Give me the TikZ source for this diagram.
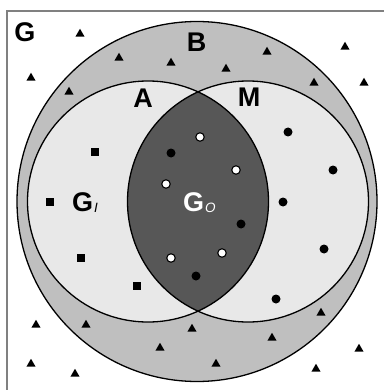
\documentclass[tikz,border=0pt]{standalone}
\usepackage{fontspec}
\setmainfont{Liberation Sans}
\usetikzlibrary{shapes.geometric}
\definecolor{ringgray}{gray}{0.75}
\definecolor{setgray}{gray}{0.91}
\definecolor{lensgray}{gray}{0.34}
\definecolor{framegray}{gray}{0.5}
\begin{document}
\begin{tikzpicture}[x=1pt,y=-1pt,
  outline/.style={draw=black,line width=1.3pt},
  tri/.style={regular polygon,regular polygon sides=3,fill=black,inner sep=0pt,minimum size=10.5pt},
  sq/.style={rectangle,fill=black,inner sep=0pt,minimum size=8pt},
  bdot/.style={circle,fill=black,inner sep=0pt,minimum size=9pt},
  wdot/.style={circle,fill=white,draw=black,line width=1.1pt,inner sep=0pt,minimum size=8.5pt},
  lab/.style={font=\bfseries\fontsize{27}{27}\selectfont,inner sep=0pt}]
\useasboundingbox (0,0) rectangle (383,390);
% frame of the universe G
\draw[framegray,line width=1.7pt] (7,392) -- (7,11) -- (385,11);
% ring B and the two sets A and M
\fill[ringgray] (197,201.5) circle (180);
\fill[setgray] (148,201.5) circle (120.5);
\fill[setgray] (248,201.5) circle (120.5);
\begin{scope}
  \clip (148,201.5) circle (120.5);
  \fill[lensgray] (248,201.5) circle (120.5);
\end{scope}
\draw[outline] (197,201.5) circle (180);
\draw[outline] (148,201.5) circle (120.5);
\draw[outline] (248,201.5) circle (120.5);
% triangles
\foreach \x/\y [count=\i] in {80/33,119/57,171/62,31/77,69/91,267/51,226/68,345/46,314/82,364/82,
  36/324,86/324,192/328,160/347,31/363,75/373,321/312,272/337,216/363,316/368,359/348}
  \node[tri] (t\i) at (\x,\y+1) {};
% squares
\foreach \x/\y [count=\i] in {95/152,50/202,81/258,137/286}
  \node[sq] (s\i) at (\x,\y) {};
% black dots
\foreach \x/\y [count=\i] in {171/153,241/224,196/276,288/132,333/170,283/202,324/249,276/299}
  \node[bdot] (b\i) at (\x,\y) {};
% white dots
\foreach \x/\y [count=\i] in {200/137,236/170,166/184,171/258,222/253}
  \node[wdot] (w\i) at (\x,\y) {};
% labels
\node[lab] (lG) at (25,32.5) {G};
\node[lab] (lB) at (196.5,42.5) {B};
\node[lab] (lA) at (143,98.5) {A};
\node[lab] (lM) at (249,97) {M};
\node[lab,anchor=base west] (lGI) at (72,211.5) {G\raisebox{-1pt}{\hspace{1pt}\textit{\fontsize{13.5}{13.5}\mdseries\selectfont I}}};
\node[lab,anchor=base west,text=white] (lGO) at (183,211.5) {G\raisebox{-1pt}{\hspace{1pt}\textit{\fontsize{13.5}{13.5}\mdseries\selectfont O}}};
\end{tikzpicture}
\end{document}
